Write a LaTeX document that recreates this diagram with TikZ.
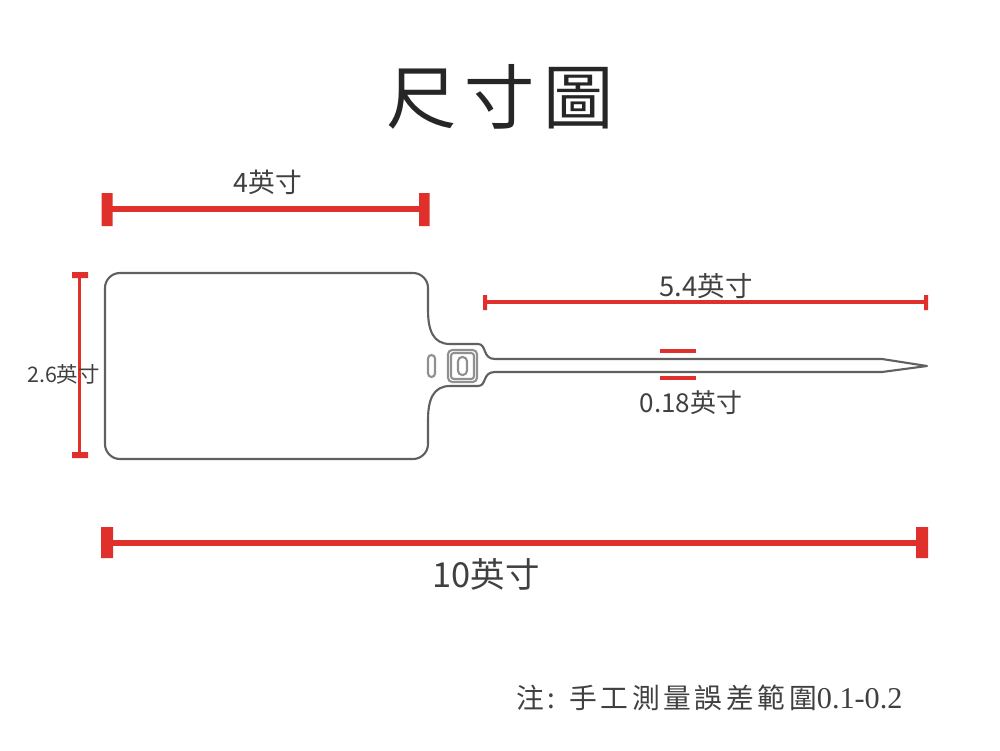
\documentclass[tikz,border=0pt]{standalone}
\usepackage{fontspec}
\setmainfont{Noto Sans CJK TC}
\newfontfamily\notefont[LetterSpace=13]{Noto Sans CJK TC}
\newfontfamily\digitfont{Liberation Serif}
\usepackage{tikz}
\definecolor{dimred}{HTML}{E0302B}
\definecolor{labelgray}{HTML}{404040}
\definecolor{tagline}{HTML}{606060}

\begin{document}
\begin{tikzpicture}[every node/.style={inner sep=0,text=labelgray},
    tagedge/.style={draw=tagline,line width=0.6pt,line join=round},
    heavydim/.style={draw=dimred,line width=1.45pt},
    thindim/.style={draw=dimred,line width=0.9pt}]
        \useasboundingbox (0,0) rectangle (10,7.5);
        \node[font=\fontsize{20}{20}\selectfont,text=black!85] (title) at (5,6.53) {尺\hspace{0.115em}寸\hspace{0.115em}圖};
        % tag outline
        \draw[tagedge] (1.2,4.77) -- (4.13,4.77) to[out=0,in=90] (4.28,4.62) -- (4.28,4.4)
          .. controls (4.28,4.2) and (4.33,4.06) .. (4.5,4.06) -- (4.78,4.06)
          .. controls (4.87,4.06) and (4.82,3.91) .. (4.95,3.91) -- (8.82,3.91) -- (9.27,3.84)
          -- (8.82,3.78) -- (4.95,3.78)
          .. controls (4.82,3.78) and (4.87,3.64) .. (4.78,3.64) -- (4.5,3.64)
          .. controls (4.33,3.64) and (4.28,3.5) .. (4.28,3.3) -- (4.28,3.06)
          to[out=-90,in=0] (4.13,2.91) -- (1.2,2.91) to[out=180,in=-90] (1.05,3.06)
          -- (1.05,4.62) to[out=90,in=180] cycle;
        \draw[tagedge,draw=tagline!70,rounded corners=1.2pt] (4.48,3.68) rectangle (4.77,4);
        \draw[tagedge,draw=tagline!70,rounded corners=0.8pt] (4.51,3.71) rectangle (4.74,3.97);
        \draw[tagedge,draw=tagline!70,rounded corners=1.2pt] (4.58,3.75) rectangle (4.67,3.93);
        \draw[tagedge,draw=tagline!70,rounded corners=1pt] (4.28,3.73) rectangle (4.35,3.95);
        % width of the tag
        \coordinate (w1) at (1.07,5.41);
        \coordinate (w2) at (4.24,5.41);
        \draw[heavydim] (w1) -- (w2);
        \fill[dimred] (1.015,5.24) rectangle (1.125,5.57) (4.19,5.24) rectangle (4.295,5.57);
        \node[font=\fontsize{7.6}{8}\selectfont] (wlabel) at (2.68,5.68) {4英寸};
        % height of the tag
        \coordinate (h1) at (0.795,4.75);
        \coordinate (h2) at (0.795,2.95);
        \draw[heavydim,line width=1.1pt] (h1) -- (h2);
        \fill[dimred] (0.72,4.72) rectangle (0.88,4.78) (0.72,2.92) rectangle (0.88,2.98);
        \node[font=\fontsize{6.1}{7}\selectfont] (hlabel) at (0.635,3.76) {2.6英寸};
        % length of the strap
        \coordinate (s1) at (4.85,4.48);
        \coordinate (s2) at (9.26,4.48);
        \draw[thindim] (s1) -- (s2);
        \fill[dimred] (4.83,4.4) rectangle (4.87,4.55) (9.24,4.4) rectangle (9.28,4.55);
        \node[font=\fontsize{7.8}{8}\selectfont] (slabel) at (7.06,4.64) {5.4英寸};
        % width of the strap
        \coordinate (t1) at (6.6,3.99);
        \coordinate (t2) at (6.96,3.99);
        \coordinate (t3) at (6.6,3.72);
        \coordinate (t4) at (6.96,3.72);
        \draw[thindim] (t1) -- (t2) (t3) -- (t4);
        \node[font=\fontsize{7.4}{8}\selectfont] (tlabel) at (6.91,3.47) {0.18英寸};
        % overall length
        \coordinate (a1) at (1.07,2.07);
        \coordinate (a2) at (9.22,2.07);
        \draw[heavydim] (a1) -- (a2);
        \fill[dimred] (1.01,1.92) rectangle (1.13,2.23) (9.16,1.92) rectangle (9.28,2.23);
        \node[font=\fontsize{9.8}{10}\selectfont] (alabel) at (4.86,1.76) {10英寸};
        \node[font=\fontsize{7.9}{8}\selectfont] (note) at (7.095,0.52) {\notefont 注:\hspace{0.5em}手工測量誤差範圍{\fontsize{8.6}{9}\selectfont\digitfont 0.1-0.2}};
      \end{tikzpicture}
\end{document}
